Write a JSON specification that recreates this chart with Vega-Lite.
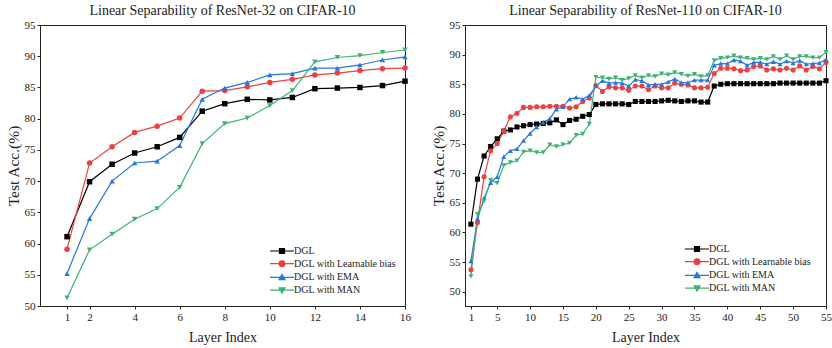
{
  "$schema": "https://vega.github.io/schema/vega-lite/v6.json",
  "background": "white",
  "padding": {"left": 5, "top": 3, "right": 0, "bottom": 0},
  "config": {
    "font": "Liberation Serif",
    "view": {"stroke": "#222", "strokeWidth": 1},
    "axis": {"grid": false, "domainColor": "#222", "tickColor": "#222", "tickSize": 3, "labelPadding": 2, "labelOverlap": false, "labelFlush": false, "labelFont": "Liberation Serif", "labelFontSize": 11, "labelColor": "#222", "titleFont": "Liberation Serif", "titleFontSize": 15, "titleFontWeight": "normal", "titleColor": "#222"},
    "title": {"font": "Liberation Serif", "fontSize": 14, "fontWeight": "normal", "color": "#222", "offset": 1},
    "concat": {"spacing": 19},
    "legend": {"orient": "none", "title": null, "padding": 0, "labelFont": "Liberation Serif", "labelFontSize": 10, "labelColor": "#222", "symbolSize": 144, "symbolStrokeWidth": 1.2, "labelOffset": 5, "rowPadding": 0.7}
  },
  "resolve": {"legend": {"color": "independent"}},
  "datasets": {
    "left": [
      {"layer":1,"acc":61.1,"method":"DGL"},{"layer":2,"acc":69.9,"method":"DGL"},{"layer":3,"acc":72.7,"method":"DGL"},{"layer":4,"acc":74.5,"method":"DGL"},{"layer":5,"acc":75.5,"method":"DGL"},{"layer":6,"acc":77.0,"method":"DGL"},{"layer":7,"acc":81.2,"method":"DGL"},{"layer":8,"acc":82.4,"method":"DGL"},{"layer":9,"acc":83.1,"method":"DGL"},{"layer":10,"acc":83.0,"method":"DGL"},{"layer":11,"acc":83.4,"method":"DGL"},{"layer":12,"acc":84.8,"method":"DGL"},{"layer":13,"acc":84.9,"method":"DGL"},{"layer":14,"acc":85.0,"method":"DGL"},{"layer":15,"acc":85.3,"method":"DGL"},{"layer":16,"acc":86.0,"method":"DGL"},
      {"layer":1,"acc":59.1,"method":"DGL with Learnable bias"},{"layer":2,"acc":72.9,"method":"DGL with Learnable bias"},{"layer":3,"acc":75.5,"method":"DGL with Learnable bias"},{"layer":4,"acc":77.8,"method":"DGL with Learnable bias"},{"layer":5,"acc":78.8,"method":"DGL with Learnable bias"},{"layer":6,"acc":80.1,"method":"DGL with Learnable bias"},{"layer":7,"acc":84.4,"method":"DGL with Learnable bias"},{"layer":8,"acc":84.5,"method":"DGL with Learnable bias"},{"layer":9,"acc":85.1,"method":"DGL with Learnable bias"},{"layer":10,"acc":85.8,"method":"DGL with Learnable bias"},{"layer":11,"acc":86.3,"method":"DGL with Learnable bias"},{"layer":12,"acc":87.0,"method":"DGL with Learnable bias"},{"layer":13,"acc":87.3,"method":"DGL with Learnable bias"},{"layer":14,"acc":87.7,"method":"DGL with Learnable bias"},{"layer":15,"acc":88.0,"method":"DGL with Learnable bias"},{"layer":16,"acc":88.1,"method":"DGL with Learnable bias"},
      {"layer":1,"acc":55.2,"method":"DGL with EMA"},{"layer":2,"acc":64.0,"method":"DGL with EMA"},{"layer":3,"acc":70.0,"method":"DGL with EMA"},{"layer":4,"acc":72.9,"method":"DGL with EMA"},{"layer":5,"acc":73.2,"method":"DGL with EMA"},{"layer":6,"acc":75.7,"method":"DGL with EMA"},{"layer":7,"acc":83.1,"method":"DGL with EMA"},{"layer":8,"acc":84.9,"method":"DGL with EMA"},{"layer":9,"acc":85.8,"method":"DGL with EMA"},{"layer":10,"acc":87.0,"method":"DGL with EMA"},{"layer":11,"acc":87.2,"method":"DGL with EMA"},{"layer":12,"acc":88.1,"method":"DGL with EMA"},{"layer":13,"acc":88.1,"method":"DGL with EMA"},{"layer":14,"acc":88.6,"method":"DGL with EMA"},{"layer":15,"acc":89.4,"method":"DGL with EMA"},{"layer":16,"acc":89.9,"method":"DGL with EMA"},
      {"layer":1,"acc":51.3,"method":"DGL with MAN"},{"layer":2,"acc":59.0,"method":"DGL with MAN"},{"layer":3,"acc":61.5,"method":"DGL with MAN"},{"layer":4,"acc":63.9,"method":"DGL with MAN"},{"layer":5,"acc":65.6,"method":"DGL with MAN"},{"layer":6,"acc":69.0,"method":"DGL with MAN"},{"layer":7,"acc":76.0,"method":"DGL with MAN"},{"layer":8,"acc":79.2,"method":"DGL with MAN"},{"layer":9,"acc":80.1,"method":"DGL with MAN"},{"layer":10,"acc":82.1,"method":"DGL with MAN"},{"layer":11,"acc":84.5,"method":"DGL with MAN"},{"layer":12,"acc":89.1,"method":"DGL with MAN"},{"layer":13,"acc":89.8,"method":"DGL with MAN"},{"layer":14,"acc":90.1,"method":"DGL with MAN"},{"layer":15,"acc":90.6,"method":"DGL with MAN"},{"layer":16,"acc":91.0,"method":"DGL with MAN"}
    ],
    "right": [
      {"layer":1,"acc":61.4,"method":"DGL"},{"layer":2,"acc":69.0,"method":"DGL"},{"layer":3,"acc":72.9,"method":"DGL"},{"layer":4,"acc":74.5,"method":"DGL"},{"layer":5,"acc":75.8,"method":"DGL"},{"layer":6,"acc":77.1,"method":"DGL"},{"layer":7,"acc":77.3,"method":"DGL"},{"layer":8,"acc":77.8,"method":"DGL"},{"layer":9,"acc":78.0,"method":"DGL"},{"layer":10,"acc":78.2,"method":"DGL"},{"layer":11,"acc":78.3,"method":"DGL"},{"layer":12,"acc":78.4,"method":"DGL"},{"layer":13,"acc":78.5,"method":"DGL"},{"layer":14,"acc":79.0,"method":"DGL"},{"layer":15,"acc":78.2,"method":"DGL"},{"layer":16,"acc":78.9,"method":"DGL"},{"layer":17,"acc":79.1,"method":"DGL"},{"layer":18,"acc":79.6,"method":"DGL"},{"layer":19,"acc":79.9,"method":"DGL"},{"layer":20,"acc":81.6,"method":"DGL"},{"layer":21,"acc":81.7,"method":"DGL"},{"layer":22,"acc":81.7,"method":"DGL"},{"layer":23,"acc":81.7,"method":"DGL"},{"layer":24,"acc":81.7,"method":"DGL"},{"layer":25,"acc":81.6,"method":"DGL"},{"layer":26,"acc":82.1,"method":"DGL"},{"layer":27,"acc":82.1,"method":"DGL"},{"layer":28,"acc":82.1,"method":"DGL"},{"layer":29,"acc":82.1,"method":"DGL"},{"layer":30,"acc":82.2,"method":"DGL"},{"layer":31,"acc":82.3,"method":"DGL"},{"layer":32,"acc":82.2,"method":"DGL"},{"layer":33,"acc":82.1,"method":"DGL"},{"layer":34,"acc":82.2,"method":"DGL"},{"layer":35,"acc":82.2,"method":"DGL"},{"layer":36,"acc":82.0,"method":"DGL"},{"layer":37,"acc":82.0,"method":"DGL"},{"layer":38,"acc":84.7,"method":"DGL"},{"layer":39,"acc":85.0,"method":"DGL"},{"layer":40,"acc":85.1,"method":"DGL"},{"layer":41,"acc":85.1,"method":"DGL"},{"layer":42,"acc":85.1,"method":"DGL"},{"layer":43,"acc":85.1,"method":"DGL"},{"layer":44,"acc":85.1,"method":"DGL"},{"layer":45,"acc":85.1,"method":"DGL"},{"layer":46,"acc":85.1,"method":"DGL"},{"layer":47,"acc":85.1,"method":"DGL"},{"layer":48,"acc":85.2,"method":"DGL"},{"layer":49,"acc":85.2,"method":"DGL"},{"layer":50,"acc":85.2,"method":"DGL"},{"layer":51,"acc":85.2,"method":"DGL"},{"layer":52,"acc":85.2,"method":"DGL"},{"layer":53,"acc":85.2,"method":"DGL"},{"layer":54,"acc":85.2,"method":"DGL"},{"layer":55,"acc":85.6,"method":"DGL"},
      {"layer":1,"acc":53.7,"method":"DGL with Learnable bias"},{"layer":2,"acc":61.7,"method":"DGL with Learnable bias"},{"layer":3,"acc":69.4,"method":"DGL with Learnable bias"},{"layer":4,"acc":73.8,"method":"DGL with Learnable bias"},{"layer":5,"acc":75.0,"method":"DGL with Learnable bias"},{"layer":6,"acc":77.1,"method":"DGL with Learnable bias"},{"layer":7,"acc":79.5,"method":"DGL with Learnable bias"},{"layer":8,"acc":80.1,"method":"DGL with Learnable bias"},{"layer":9,"acc":81.1,"method":"DGL with Learnable bias"},{"layer":10,"acc":81.1,"method":"DGL with Learnable bias"},{"layer":11,"acc":81.2,"method":"DGL with Learnable bias"},{"layer":12,"acc":81.2,"method":"DGL with Learnable bias"},{"layer":13,"acc":81.3,"method":"DGL with Learnable bias"},{"layer":14,"acc":81.3,"method":"DGL with Learnable bias"},{"layer":15,"acc":81.3,"method":"DGL with Learnable bias"},{"layer":16,"acc":81.0,"method":"DGL with Learnable bias"},{"layer":17,"acc":81.2,"method":"DGL with Learnable bias"},{"layer":18,"acc":82.1,"method":"DGL with Learnable bias"},{"layer":19,"acc":82.7,"method":"DGL with Learnable bias"},{"layer":20,"acc":84.8,"method":"DGL with Learnable bias"},{"layer":21,"acc":83.8,"method":"DGL with Learnable bias"},{"layer":22,"acc":84.6,"method":"DGL with Learnable bias"},{"layer":23,"acc":84.4,"method":"DGL with Learnable bias"},{"layer":24,"acc":84.4,"method":"DGL with Learnable bias"},{"layer":25,"acc":84.0,"method":"DGL with Learnable bias"},{"layer":26,"acc":84.7,"method":"DGL with Learnable bias"},{"layer":27,"acc":84.7,"method":"DGL with Learnable bias"},{"layer":28,"acc":84.1,"method":"DGL with Learnable bias"},{"layer":29,"acc":84.7,"method":"DGL with Learnable bias"},{"layer":30,"acc":84.4,"method":"DGL with Learnable bias"},{"layer":31,"acc":84.4,"method":"DGL with Learnable bias"},{"layer":32,"acc":85.2,"method":"DGL with Learnable bias"},{"layer":33,"acc":85.0,"method":"DGL with Learnable bias"},{"layer":34,"acc":84.9,"method":"DGL with Learnable bias"},{"layer":35,"acc":84.4,"method":"DGL with Learnable bias"},{"layer":36,"acc":84.4,"method":"DGL with Learnable bias"},{"layer":37,"acc":84.5,"method":"DGL with Learnable bias"},{"layer":38,"acc":86.8,"method":"DGL with Learnable bias"},{"layer":39,"acc":87.7,"method":"DGL with Learnable bias"},{"layer":40,"acc":87.7,"method":"DGL with Learnable bias"},{"layer":41,"acc":87.6,"method":"DGL with Learnable bias"},{"layer":42,"acc":87.3,"method":"DGL with Learnable bias"},{"layer":43,"acc":87.4,"method":"DGL with Learnable bias"},{"layer":44,"acc":88.0,"method":"DGL with Learnable bias"},{"layer":45,"acc":88.1,"method":"DGL with Learnable bias"},{"layer":46,"acc":87.4,"method":"DGL with Learnable bias"},{"layer":47,"acc":87.6,"method":"DGL with Learnable bias"},{"layer":48,"acc":87.4,"method":"DGL with Learnable bias"},{"layer":49,"acc":87.7,"method":"DGL with Learnable bias"},{"layer":50,"acc":87.4,"method":"DGL with Learnable bias"},{"layer":51,"acc":88.1,"method":"DGL with Learnable bias"},{"layer":52,"acc":87.4,"method":"DGL with Learnable bias"},{"layer":53,"acc":88.0,"method":"DGL with Learnable bias"},{"layer":54,"acc":87.6,"method":"DGL with Learnable bias"},{"layer":55,"acc":88.7,"method":"DGL with Learnable bias"},
      {"layer":1,"acc":55.2,"method":"DGL with EMA"},{"layer":2,"acc":62.3,"method":"DGL with EMA"},{"layer":3,"acc":65.8,"method":"DGL with EMA"},{"layer":4,"acc":68.4,"method":"DGL with EMA"},{"layer":5,"acc":69.4,"method":"DGL with EMA"},{"layer":6,"acc":72.8,"method":"DGL with EMA"},{"layer":7,"acc":73.8,"method":"DGL with EMA"},{"layer":8,"acc":74.1,"method":"DGL with EMA"},{"layer":9,"acc":75.5,"method":"DGL with EMA"},{"layer":10,"acc":76.7,"method":"DGL with EMA"},{"layer":11,"acc":77.8,"method":"DGL with EMA"},{"layer":12,"acc":78.6,"method":"DGL with EMA"},{"layer":13,"acc":79.2,"method":"DGL with EMA"},{"layer":14,"acc":80.8,"method":"DGL with EMA"},{"layer":15,"acc":81.2,"method":"DGL with EMA"},{"layer":16,"acc":82.5,"method":"DGL with EMA"},{"layer":17,"acc":82.8,"method":"DGL with EMA"},{"layer":18,"acc":82.5,"method":"DGL with EMA"},{"layer":19,"acc":83.1,"method":"DGL with EMA"},{"layer":20,"acc":84.7,"method":"DGL with EMA"},{"layer":21,"acc":85.6,"method":"DGL with EMA"},{"layer":22,"acc":85.2,"method":"DGL with EMA"},{"layer":23,"acc":85.3,"method":"DGL with EMA"},{"layer":24,"acc":85.2,"method":"DGL with EMA"},{"layer":25,"acc":84.7,"method":"DGL with EMA"},{"layer":26,"acc":85.8,"method":"DGL with EMA"},{"layer":27,"acc":85.6,"method":"DGL with EMA"},{"layer":28,"acc":84.9,"method":"DGL with EMA"},{"layer":29,"acc":85.0,"method":"DGL with EMA"},{"layer":30,"acc":85.0,"method":"DGL with EMA"},{"layer":31,"acc":85.4,"method":"DGL with EMA"},{"layer":32,"acc":85.9,"method":"DGL with EMA"},{"layer":33,"acc":85.3,"method":"DGL with EMA"},{"layer":34,"acc":85.3,"method":"DGL with EMA"},{"layer":35,"acc":85.7,"method":"DGL with EMA"},{"layer":36,"acc":85.7,"method":"DGL with EMA"},{"layer":37,"acc":85.7,"method":"DGL with EMA"},{"layer":38,"acc":88.2,"method":"DGL with EMA"},{"layer":39,"acc":88.5,"method":"DGL with EMA"},{"layer":40,"acc":88.5,"method":"DGL with EMA"},{"layer":41,"acc":89.1,"method":"DGL with EMA"},{"layer":42,"acc":88.9,"method":"DGL with EMA"},{"layer":43,"acc":88.2,"method":"DGL with EMA"},{"layer":44,"acc":88.7,"method":"DGL with EMA"},{"layer":45,"acc":88.7,"method":"DGL with EMA"},{"layer":46,"acc":88.4,"method":"DGL with EMA"},{"layer":47,"acc":88.8,"method":"DGL with EMA"},{"layer":48,"acc":88.4,"method":"DGL with EMA"},{"layer":49,"acc":88.9,"method":"DGL with EMA"},{"layer":50,"acc":88.6,"method":"DGL with EMA"},{"layer":51,"acc":89.0,"method":"DGL with EMA"},{"layer":52,"acc":88.4,"method":"DGL with EMA"},{"layer":53,"acc":88.5,"method":"DGL with EMA"},{"layer":54,"acc":88.6,"method":"DGL with EMA"},{"layer":55,"acc":89.2,"method":"DGL with EMA"},
      {"layer":1,"acc":52.6,"method":"DGL with MAN"},{"layer":2,"acc":63.1,"method":"DGL with MAN"},{"layer":3,"acc":65.3,"method":"DGL with MAN"},{"layer":4,"acc":68.8,"method":"DGL with MAN"},{"layer":5,"acc":68.3,"method":"DGL with MAN"},{"layer":6,"acc":71.3,"method":"DGL with MAN"},{"layer":7,"acc":71.8,"method":"DGL with MAN"},{"layer":8,"acc":72.1,"method":"DGL with MAN"},{"layer":9,"acc":73.6,"method":"DGL with MAN"},{"layer":10,"acc":73.8,"method":"DGL with MAN"},{"layer":11,"acc":73.5,"method":"DGL with MAN"},{"layer":12,"acc":73.5,"method":"DGL with MAN"},{"layer":13,"acc":74.8,"method":"DGL with MAN"},{"layer":14,"acc":74.5,"method":"DGL with MAN"},{"layer":15,"acc":74.8,"method":"DGL with MAN"},{"layer":16,"acc":75.1,"method":"DGL with MAN"},{"layer":17,"acc":76.4,"method":"DGL with MAN"},{"layer":18,"acc":76.6,"method":"DGL with MAN"},{"layer":19,"acc":78.3,"method":"DGL with MAN"},{"layer":20,"acc":86.2,"method":"DGL with MAN"},{"layer":21,"acc":86.1,"method":"DGL with MAN"},{"layer":22,"acc":85.9,"method":"DGL with MAN"},{"layer":23,"acc":86.1,"method":"DGL with MAN"},{"layer":24,"acc":85.7,"method":"DGL with MAN"},{"layer":25,"acc":86.0,"method":"DGL with MAN"},{"layer":26,"acc":86.5,"method":"DGL with MAN"},{"layer":27,"acc":86.1,"method":"DGL with MAN"},{"layer":28,"acc":86.5,"method":"DGL with MAN"},{"layer":29,"acc":86.3,"method":"DGL with MAN"},{"layer":30,"acc":86.8,"method":"DGL with MAN"},{"layer":31,"acc":86.6,"method":"DGL with MAN"},{"layer":32,"acc":87.0,"method":"DGL with MAN"},{"layer":33,"acc":86.7,"method":"DGL with MAN"},{"layer":34,"acc":86.4,"method":"DGL with MAN"},{"layer":35,"acc":86.7,"method":"DGL with MAN"},{"layer":36,"acc":86.3,"method":"DGL with MAN"},{"layer":37,"acc":86.5,"method":"DGL with MAN"},{"layer":38,"acc":89.0,"method":"DGL with MAN"},{"layer":39,"acc":89.4,"method":"DGL with MAN"},{"layer":40,"acc":89.5,"method":"DGL with MAN"},{"layer":41,"acc":89.8,"method":"DGL with MAN"},{"layer":42,"acc":89.5,"method":"DGL with MAN"},{"layer":43,"acc":89.4,"method":"DGL with MAN"},{"layer":44,"acc":89.2,"method":"DGL with MAN"},{"layer":45,"acc":89.4,"method":"DGL with MAN"},{"layer":46,"acc":89.2,"method":"DGL with MAN"},{"layer":47,"acc":89.7,"method":"DGL with MAN"},{"layer":48,"acc":89.2,"method":"DGL with MAN"},{"layer":49,"acc":89.8,"method":"DGL with MAN"},{"layer":50,"acc":89.2,"method":"DGL with MAN"},{"layer":51,"acc":89.7,"method":"DGL with MAN"},{"layer":52,"acc":89.7,"method":"DGL with MAN"},{"layer":53,"acc":89.5,"method":"DGL with MAN"},{"layer":54,"acc":89.5,"method":"DGL with MAN"},{"layer":55,"acc":90.4,"method":"DGL with MAN"}
    ]
  },
  "hconcat": [
    {
      "width": 365,
      "height": 281,
      "title": "Linear Separability of ResNet-32 on CIFAR-10",
      "data": {"name": "left"},
      "encoding": {
        "x": {"field": "layer", "type": "quantitative", "title": "Layer Index", "scale": {"domain": [-0.2, 16], "nice": false, "zero": false}, "axis": {"values": [1, 2, 4, 6, 8, 10, 12, 14, 16], "labelOverlap": false, "titlePadding": 8, "titleFont": "Liberation Serif", "titleFontWeight": "normal", "titleFontSize": 14}},
        "y": {"field": "acc", "type": "quantitative", "title": "Test Acc.(%)", "scale": {"domain": [50, 95], "nice": false, "zero": false}, "axis": {"values": [50, 55, 60, 65, 70, 75, 80, 85, 90, 95], "labelOverlap": false, "titlePadding": 3, "titleFont": "Liberation Serif", "titleFontWeight": "normal", "titleFontSize": 15.5}}
      },
      "layer": [
        {
          "mark": {"type": "line", "strokeWidth": 1.2},
          "encoding": {
            "color": {
              "field": "method", "type": "nominal",
              "scale": {"domain": ["DGL", "DGL with Learnable bias", "DGL with EMA", "DGL with MAN"], "range": ["#000000", "#ee4040", "#2577e3", "#3cb371"]},
              "legend": {
                "legendX": 235, "legendY": 219,
                "encode": {"symbols": {"update": {
                  "shape": {"signal": "datum.value === 'DGL' ? 'M-2,0H2M-0.42,-0.42H0.42V0.42H-0.42Z' : datum.value === 'DGL with Learnable bias' ? 'M-2,0H2M-0.48,0A0.48,0.48,0,1,0,0.48,0A0.48,0.48,0,1,0,-0.48,0Z' : datum.value === 'DGL with EMA' ? 'M-2,0H2M0,-0.5L0.5,0.36L-0.5,0.36Z' : 'M-2,0H2M0,0.5L0.5,-0.36L-0.5,-0.36Z'"},
                  "fill": {"signal": "datum.value === 'DGL' ? '#000000' : datum.value === 'DGL with Learnable bias' ? '#ee4040' : datum.value === 'DGL with EMA' ? '#2577e3' : '#3cb371'"}
                }}}
              }
            }
          }
        },
        {
          "mark": {"type": "point", "filled": true, "size": 30, "opacity": 1},
          "encoding": {
            "color": {"field": "method", "type": "nominal", "legend": null},
            "shape": {"field": "method", "type": "nominal", "legend": null, "scale": {"domain": ["DGL", "DGL with Learnable bias", "DGL with EMA", "DGL with MAN"], "range": ["square", "circle", "triangle-up", "triangle-down"]}}
          }
        }
      ]
    },
    {
      "width": 361,
      "height": 281,
      "title": "Linear Separability of ResNet-110 on CIFAR-10",
      "data": {"name": "right"},
      "encoding": {
        "x": {"field": "layer", "type": "quantitative", "title": "Layer Index", "scale": {"domain": [0.1, 55], "nice": false, "zero": false}, "axis": {"values": [1, 5, 10, 15, 20, 25, 30, 35, 40, 45, 50, 55], "labelOverlap": false, "titlePadding": 8, "titleFont": "Liberation Serif", "titleFontWeight": "normal", "titleFontSize": 14}},
        "y": {"field": "acc", "type": "quantitative", "title": "Test Acc.(%)", "scale": {"domain": [47.6, 95], "nice": false, "zero": false}, "axis": {"values": [50, 55, 60, 65, 70, 75, 80, 85, 90, 95], "labelOverlap": false, "titlePadding": 3, "titleFont": "Liberation Serif", "titleFontWeight": "normal", "titleFontSize": 15.5}}
      },
      "layer": [
        {
          "mark": {"type": "line", "strokeWidth": 1.2},
          "encoding": {
            "color": {
              "field": "method", "type": "nominal",
              "scale": {"domain": ["DGL", "DGL with Learnable bias", "DGL with EMA", "DGL with MAN"], "range": ["#000000", "#ee4040", "#2577e3", "#3cb371"]},
              "legend": {
                "legendX": 225, "legendY": 217,
                "encode": {"symbols": {"update": {
                  "shape": {"signal": "datum.value === 'DGL' ? 'M-2,0H2M-0.42,-0.42H0.42V0.42H-0.42Z' : datum.value === 'DGL with Learnable bias' ? 'M-2,0H2M-0.48,0A0.48,0.48,0,1,0,0.48,0A0.48,0.48,0,1,0,-0.48,0Z' : datum.value === 'DGL with EMA' ? 'M-2,0H2M0,-0.5L0.5,0.36L-0.5,0.36Z' : 'M-2,0H2M0,0.5L0.5,-0.36L-0.5,-0.36Z'"},
                  "fill": {"signal": "datum.value === 'DGL' ? '#000000' : datum.value === 'DGL with Learnable bias' ? '#ee4040' : datum.value === 'DGL with EMA' ? '#2577e3' : '#3cb371'"}
                }}}
              }
            }
          }
        },
        {
          "mark": {"type": "point", "filled": true, "size": 26, "opacity": 1},
          "encoding": {
            "color": {"field": "method", "type": "nominal", "legend": null},
            "shape": {"field": "method", "type": "nominal", "legend": null, "scale": {"domain": ["DGL", "DGL with Learnable bias", "DGL with EMA", "DGL with MAN"], "range": ["square", "circle", "triangle-up", "triangle-down"]}}
          }
        }
      ]
    }
  ]
}
